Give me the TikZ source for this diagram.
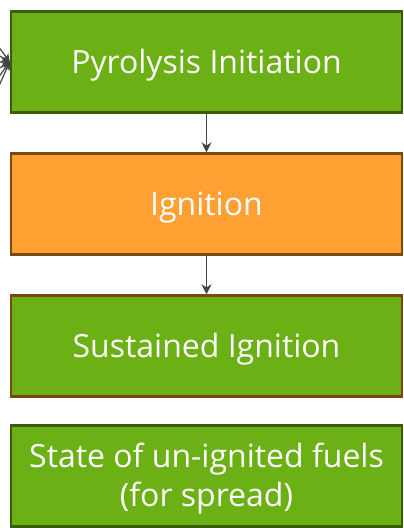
\documentclass[tikz,border=0pt]{standalone}
\usepackage{fontspec}
\setmainfont{Open Sans}
\usetikzlibrary{arrows.meta}
\definecolor{boxgreen}{HTML}{6BB015}
\definecolor{boxorange}{HTML}{FFA033}
\definecolor{edgegreen}{HTML}{3A5C0C}
\definecolor{edgebrown}{HTML}{7A4612}
\definecolor{arrowgray}{HTML}{444444}
\begin{document}
\begin{tikzpicture}[x=1pt,y=1pt,
  stepbox/.style={rectangle, minimum width=391pt, minimum height=101pt, line width=2.5pt,
    text=white, font=\fontsize{32}{39}\selectfont, align=center, inner sep=0pt, text depth=1.5pt},
  greenbox/.style={stepbox, fill=boxgreen, draw=edgegreen},
  greenbrown/.style={stepbox, fill=boxgreen, draw=edgebrown},
  orangebox/.style={stepbox, fill=boxorange, draw=edgebrown},
  conn/.style={draw=arrowgray, line width=1.6pt, -{Stealth[length=10pt,width=10pt]}},
  feed/.style={draw=arrowgray, line width=1.2pt, -{Stealth[length=8pt,width=8pt]}}]
\useasboundingbox (0,0) rectangle (404,528);
\node[greenbox] (pyro) at (206.5,466.2) {Pyrolysis Initiation};
\node[orangebox] (ign) at (206.5,323.9) {Ignition};
\node[greenbrown] (sus) at (206.5,182) {Sustained Ignition};
\node[greenbox] (state) at (206.5,52.1) {State of un-ignited fuels\\(for spread)};
\draw[conn] (pyro) -- (ign);
\draw[conn] (ign) -- (sus);
\coordinate (f1) at (-2,482);
\coordinate (f2) at (-2,473);
\coordinate (f3) at (-2,466);
\coordinate (f4) at (-2,459);
\coordinate (f5) at (-2,450);
\coordinate (f6) at (-2,440);
\foreach \f in {f1,f2,f3,f4,f5,f6} \draw[feed] (\f) -- (pyro.west);
\end{tikzpicture}
\end{document}
